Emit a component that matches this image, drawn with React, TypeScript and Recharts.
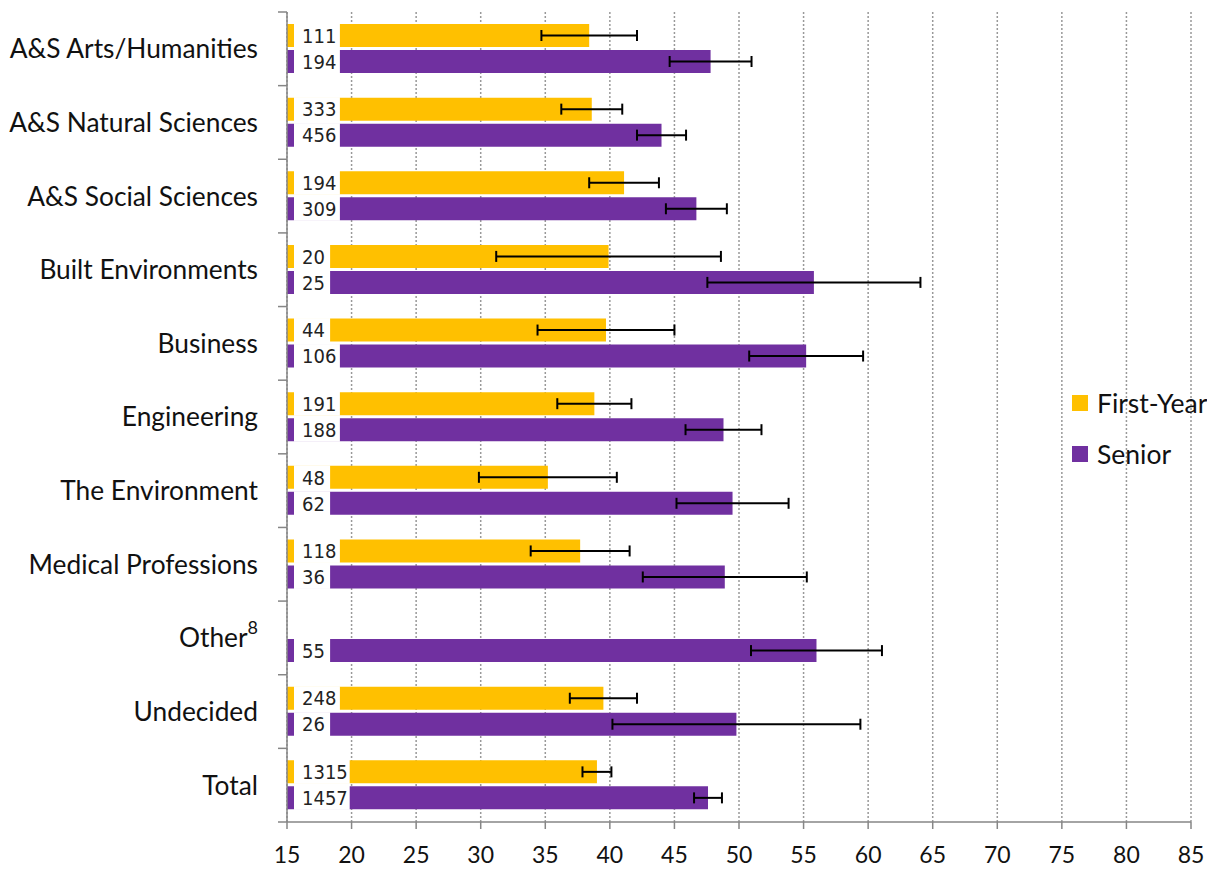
import React from 'react';
import { BarChart, Bar, XAxis, YAxis, CartesianGrid, ErrorBar, LabelList, Legend } from 'recharts';

const categories = [
  'A&S Arts/Humanities',
  'A&S Natural Sciences',
  'A&S Social Sciences',
  'Built Environments',
  'Business',
  'Engineering',
  'The Environment',
  'Medical Professions',
  'Other',
  'Undecided',
  'Total',
];

// mean scores
const firstYear = [38.4, 38.6, 41.1, 39.9, 39.7, 38.8, 35.2, 37.7, null, 39.5, 39.0];
const senior = [47.8, 44.0, 46.7, 55.8, 55.2, 48.8, 49.5, 48.9, 56.0, 49.8, 47.6];

// error margins (+/-)
const firstYearErr = [3.7, 2.36, 2.7, 8.7, 5.3, 2.87, 5.34, 3.83, null, 2.6, 1.12];
const seniorErr = [3.17, 1.9, 2.36, 8.25, 4.41, 2.94, 4.34, 6.35, 5.07, 9.6, 1.08];

// sample sizes
const firstYearN = [111, 333, 194, 20, 44, 191, 48, 118, null, 248, 1315];
const seniorN = [194, 456, 309, 25, 106, 188, 62, 36, 55, 26, 1457];

const xTicks = [15, 20, 25, 30, 35, 40, 45, 50, 55, 60, 65, 70, 75, 80, 85];

const FY_COLOR = '#FFC000';
const SR_COLOR = '#7030A0';
const AXIS_COLOR = '#868686';

const CHART_W = 1207;
const CHART_H = 861;
const TOP = 4;
const BOTTOM = 6;
const X_AXIS_H = 41;
const BAND = (CHART_H - TOP - BOTTOM - X_AXIS_H) / categories.length;

const data = categories.map((name, i) => ({
  name,
  fy: firstYear[i],
  sr: senior[i],
  fyErr: firstYearErr[i],
  srErr: seniorErr[i],
  fyN: firstYearN[i],
  srN: seniorN[i],
}));

const CountLabel = (props: any) => {
  const { value } = props;
  if (value == null) return null;
  const vb = props.viewBox || props;
  const x = Number(vb.x);
  const y = Number(vb.y);
  const h = Number(vb.height);
  const digits = String(value).length;
  const w = 16.5 + digits * 9.8;
  return (
    <g>
      <rect x={x + 7} y={y - 0.5} width={w} height={h + 1} fill="#fff" />
      <text
        x={x + 15}
        y={y + h / 2}
        dy="0.36em"
        fontSize={20}
        fill="#222"
        fontFamily="'Liberation Sans Narrow', 'DejaVu Sans Condensed', sans-serif"
      >
        {value}
      </text>
    </g>
  );
};

const CategoryTick = (props: any) => {
  const { x, y, payload, index } = props;
  const axisX = x + 29;
  const isOther = payload.value === 'Other';
  return (
    <g>
      <line x1={axisX - 9} x2={axisX} y1={y - BAND / 2} y2={y - BAND / 2} stroke={AXIS_COLOR} strokeWidth={1.5} />
      {index === categories.length - 1 && (
        <line x1={axisX - 9} x2={axisX} y1={y + BAND / 2} y2={y + BAND / 2} stroke={AXIS_COLOR} strokeWidth={1.5} />
      )}
      <text x={x} y={y} dy="0.36em" textAnchor="end" fontSize={26.3} fill="#111" fontFamily="Lato, sans-serif">
        {isOther ? (
          <>
            <tspan>Other</tspan>
            <tspan dy={-13} fontSize={18}>8</tspan>
          </>
        ) : (
          payload.value
        )}
      </text>
    </g>
  );
};

const LegendBox = () => (
  <div style={{ fontFamily: 'Lato, sans-serif', fontSize: 26.5, color: '#111' }}>
    {[
      { label: 'First-Year', color: FY_COLOR },
      { label: 'Senior', color: SR_COLOR },
    ].map((it) => (
      <div key={it.label} style={{ display: 'flex', alignItems: 'center', height: 51 }}>
        <span style={{ display: 'inline-block', width: 16, height: 16, background: it.color, marginRight: 9 }} />
        <span>{it.label}</span>
      </div>
    ))}
  </div>
);

export default function App() {
  return (
    <div style={{ width: CHART_W, height: CHART_H, background: '#fff' }}>
      <BarChart
        width={CHART_W}
        height={CHART_H}
        data={data}
        layout="vertical"
        margin={{ top: TOP, right: 24, bottom: BOTTOM, left: 0 }}
        barSize={23}
        barGap={3}
      >
        <CartesianGrid horizontal={false} stroke="#999" strokeDasharray="2 2" strokeWidth={1.5} />
        <XAxis
          type="number"
          domain={[15, 85]}
          ticks={xTicks}
          allowDataOverflow
          height={X_AXIS_H}
          stroke={AXIS_COLOR}
          strokeWidth={1.5}
          tickSize={7}
          tickMargin={18}
          tick={{ fill: '#111', fontSize: 23, fontFamily: 'Lato, sans-serif' }}
        />
        <YAxis
          type="category"
          dataKey="name"
          width={279}
          stroke={AXIS_COLOR}
          strokeWidth={1.5}
          tickLine={false}
          tickSize={8}
          tickMargin={21}
          interval={0}
          tick={<CategoryTick />}
        />
        <Legend
          layout="vertical"
          align="center"
          verticalAlign="middle"
          wrapperStyle={{ left: 1064, top: 369, width: 143 }}
          content={<LegendBox />}
        />
        <Bar dataKey="fy" name="First-Year" fill={FY_COLOR} isAnimationActive={false}>
          <LabelList dataKey="fyN" content={<CountLabel />} />
          <ErrorBar dataKey="fyErr" direction="x" width={5.5} stroke="#000" strokeWidth={2} />
        </Bar>
        <Bar dataKey="sr" name="Senior" fill={SR_COLOR} isAnimationActive={false}>
          <LabelList dataKey="srN" content={<CountLabel />} />
          <ErrorBar dataKey="srErr" direction="x" width={5.5} stroke="#000" strokeWidth={2} />
        </Bar>
      </BarChart>
    </div>
  );
}
